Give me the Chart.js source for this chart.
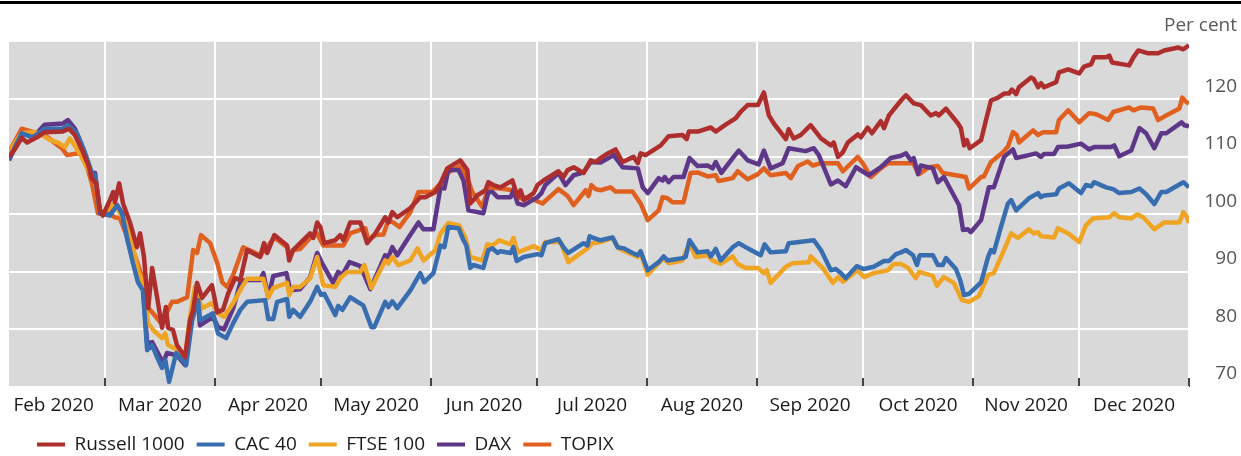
<!DOCTYPE html>
<html>
<head>
<meta charset="utf-8">
<script src="https://cdn.jsdelivr.net/npm/chart.js@4.4.1/dist/chart.umd.min.js"></script>
<style>
  html, body { margin: 0; padding: 0; background: #fff; }
  #wrap { position: relative; width: 1241px; height: 456px; }
  #wrap canvas { display: block; }
  #topRule { position: absolute; left: 0; top: 1px; width: 1241px; height: 3px; background: #000; }
</style>
</head>
<body>
<div id="wrap">
  <canvas id="indexChart" width="1241" height="456"></canvas>
  <div id="topRule"></div>
</div>
<script>
// x values are days counted from 1 Jan 2020 (= day 0)
const monthStarts = [31, 60, 91, 121, 152, 182, 213, 244, 274, 305, 335, 366];
const monthLabels = ['Feb 2020', 'Mar 2020', 'Apr 2020', 'May 2020', 'Jun 2020', 'Jul 2020',
                     'Aug 2020', 'Sep 2020', 'Oct 2020', 'Nov 2020', 'Dec 2020'];
const yTicks = [70, 80, 90, 100, 110, 120];

const russellDays = [32.9,34.6,36.5,38.0,40.8,43.0,48.1,49.8,51.5,53.5,55.2,56.3,57.5,58.6,59.4,61.4,62.3,62.8,64.0,65.1,
  67.1,69.0,69.9,71.0,72.2,73.3,74.7,76.1,77.2,77.8,79.2,80.3,82.6,84.0,84.9,86.0,87.4,90.2,91.7,93.3,
  94.8,96.7,98.2,100.1,103.8,104.9,105.8,107.8,111.4,112.0,113.1,115.1,117.9,118.8,119.9,120.8,121.9,125.0,126.4,127.3,
  129.2,132.1,134.0,136.3,139.1,140.0,141.1,142.5,146.2,149.0,150.4,153.3,154.7,156.6,160.3,162.3,163.1,165.1,167.4,168.2,
  169.6,171.6,175.0,176.5,177.3,178.2,181.0,182.1,183.8,188.0,189.4,190.6,192.3,195.1,197.1,198.5,199.9,201.9,204.1,206.1,
  209.2,210.4,211.2,212.6,216.9,219.1,223.0,224.2,224.8,227.3,231.0,232.4,235.2,238.0,239.4,241.4,244.3,246.0,247.4,248.8,
  252.2,253.0,254.4,256.4,259.2,262.1,264.9,265.7,266.9,268.3,269.7,272.5,273.4,275.3,276.5,279.0,279.9,281.3,284.7,286.1,
  288.3,290.3,293.1,294.6,295.4,297.4,300.8,301.6,302.5,303.3,304.1,307.3,308.7,310.1,312.1,313.8,315.2,316.0,317.2,318.0,
  321.4,322.2,323.4,324.2,325.1,328.5,329.3,331.9,335.0,336.4,338.4,339.2,342.6,343.5,344.3,349.1,350.3,351.7,354.5,357.3,
  359.0,363.0,364.4,366.0];
const russellValues = [110.0,111.4,113.3,112.5,113.4,114.3,114.4,114.9,113.8,111.2,108.7,106.3,105.4,100.7,99.8,102.5,103.9,102.1,105.4,101.9,
  98.5,94.3,96.7,92.6,83.7,90.7,85.6,80.3,83.9,80.3,79.9,77.3,75.2,81.6,83.4,88.1,85.5,87.7,83.0,83.4,
  86.3,88.9,88.6,93.8,92.6,95.0,93.3,96.4,94.6,92.0,93.8,95.0,96.7,95.9,98.6,97.8,95.0,95.5,96.4,95.5,
  98.6,98.6,95.0,96.7,99.5,98.6,100.4,99.5,101.1,103.0,103.0,103.9,105.4,108.0,109.4,107.7,101.9,103.3,104.2,105.6,
  105.1,104.7,105.9,103.0,104.2,102.5,103.7,105.1,105.9,107.5,106.5,107.7,108.2,107.2,109.4,109.1,109.8,110.6,111.3,109.1,
  110.0,108.9,110.6,110.3,112.0,113.6,113.8,113.1,114.4,114.4,115.1,114.4,115.6,116.7,117.8,119.0,119.0,121.2,117.2,115.8,
  113.1,114.8,113.2,113.8,115.5,113.2,112.0,112.5,110.0,110.8,112.5,113.9,113.4,115.1,114.1,116.2,115.0,117.2,119.8,120.7,
  119.3,119.0,117.2,117.6,117.2,118.4,115.8,115.0,112.0,112.9,111.5,112.9,116.4,119.8,120.3,121.0,121.0,121.7,120.9,122.1,
  123.8,123.5,122.1,122.8,122.1,123.0,124.7,125.2,124.5,125.7,126.1,127.3,127.3,127.6,126.4,125.9,127.3,128.5,128.0,128.0,
  128.5,129.0,128.7,129.4];

const cacDays = [32.9,36.5,39.7,43.0,48.1,49.5,52.1,54.3,56.3,57.2,58.6,61.4,63.4,64.8,66.2,67.9,69.3,70.7,71.9,73.3,
  74.7,76.1,77.0,78.1,80.1,81.8,82.9,84.6,86.3,86.8,90.5,91.9,94.2,96.2,98.2,100.1,105.2,106.1,107.5,108.6,
  111.4,112.0,113.1,115.1,117.9,119.9,121.0,121.9,125.0,125.8,127.0,129.2,132.9,135.2,136.0,139.1,140.0,141.1,142.5,146.2,
  149.0,150.1,152.7,154.7,155.8,156.9,159.8,161.2,162.0,163.1,164.0,166.8,168.2,169.4,170.8,171.6,174.5,175.3,176.2,178.2,
  182.1,183.2,184.3,188.0,189.4,190.8,195.1,196.2,196.8,197.9,199.9,203.3,204.7,206.4,208.9,210.4,211.2,213.2,216.3,217.7,
  218.8,223.0,223.9,225.0,227.3,230.1,231.0,232.4,233.8,237.2,238.9,241.4,245.1,246.2,247.9,252.2,253.0,260.1,262.1,264.9,
  266.3,267.7,269.1,272.2,274.2,277.0,279.9,281.3,283.3,284.7,286.1,288.1,289.2,290.0,293.7,295.1,296.5,297.4,300.2,301.4,
  302.5,303.9,307.3,309.3,310.1,310.9,312.9,314.9,315.8,317.2,320.8,323.4,324.2,325.1,328.5,329.3,332.1,335.5,336.9,338.4,
  339.2,342.6,344.6,346.3,349.7,352.0,353.9,356.2,358.2,359.6,364.4,366.0];
const cacValues = [109.6,114.1,113.4,114.9,114.9,115.5,114.1,110.8,107.2,106.8,100.2,99.8,101.6,100.2,96.0,91.5,88.2,86.8,76.4,77.3,
  75.2,73.3,74.7,70.9,75.9,74.7,73.8,81.6,85.1,81.6,82.8,79.3,78.5,81.1,83.4,84.8,85.1,81.8,81.8,84.8,
  85.3,82.2,83.4,82.2,84.8,87.4,86.0,86.2,82.5,84.1,83.4,85.6,84.2,80.4,80.4,84.8,83.9,84.9,83.7,86.8,
  89.8,88.2,89.8,94.6,94.3,97.8,97.6,95.5,94.6,90.7,91.2,90.7,93.8,94.1,93.3,93.6,93.3,94.3,91.9,92.6,
  93.1,92.9,95.0,95.7,94.3,93.3,95.0,94.6,96.2,95.9,95.5,96.0,94.3,94.1,93.3,92.9,93.6,90.3,91.7,92.7,
  92.0,92.4,92.6,95.5,93.4,93.6,92.7,94.0,92.0,94.3,95.0,94.1,92.9,94.8,93.4,93.6,95.0,95.5,93.8,90.3,
  90.5,89.8,88.9,91.0,90.5,90.9,91.9,91.9,93.1,93.4,93.8,92.9,91.2,92.9,92.9,91.2,91.2,92.4,90.5,88.6,
  86.0,86.2,88.2,92.6,93.8,93.4,97.8,101.9,102.5,100.7,102.8,103.7,103.0,103.3,103.5,104.5,105.4,103.7,105.1,104.9,
  105.6,104.7,104.4,103.7,103.9,104.5,103.5,101.8,103.9,103.9,105.6,104.7];

const ftseDays = [32.9,35.1,36.5,39.7,41.6,44.5,46.7,48.7,50.1,52.9,55.2,57.2,58.6,60.6,62.8,65.7,67.6,69.3,70.7,72.2,
  73.6,76.1,77.0,77.8,80.6,82.6,84.0,85.4,87.4,90.2,91.9,93.6,96.2,98.7,100.1,104.7,106.1,107.5,111.4,112.0,
  113.1,115.1,117.9,119.9,121.6,125.0,126.4,128.4,132.1,133.2,135.2,139.1,140.0,141.1,142.8,146.2,148.2,149.9,153.3,154.7,
  156.9,160.0,161.7,163.1,166.5,167.9,169.4,171.3,174.5,175.3,176.5,181.0,183.0,184.3,188.6,190.8,196.2,197.6,199.9,203.3,
  205.0,210.4,211.2,213.2,216.3,217.7,219.1,223.0,225.0,226.7,230.1,231.5,233.8,237.2,238.6,240.9,244.3,246.0,246.8,247.9,
  252.2,254.1,258.7,259.2,262.6,265.5,266.9,268.3,272.5,274.2,277.0,281.0,282.7,284.7,286.7,288.9,289.8,293.7,294.8,296.8,
  299.6,301.9,303.9,306.7,309.3,310.9,313.5,315.8,317.7,320.8,322.2,323.4,324.2,327.9,329.0,331.9,335.0,336.9,338.9,343.5,
  344.9,346.3,349.7,351.4,353.1,356.2,359.0,363.3,364.4,365.3,366.0];
const ftseValues = [110.6,112.9,114.1,114.3,114.1,112.9,112.5,111.7,113.2,110.6,107.7,106.3,100.4,100.7,101.9,98.5,95.0,90.3,88.1,81.1,
  79.9,78.5,79.3,77.3,76.4,75.2,82.2,87.4,83.7,84.6,82.8,82.2,84.6,87.4,88.8,88.8,85.6,87.2,88.1,86.0,
  87.4,87.4,88.9,92.6,87.7,87.4,88.9,90.0,90.0,91.2,87.2,92.0,91.5,92.6,91.2,92.0,94.1,92.0,93.8,96.7,
  98.5,98.1,96.0,92.6,92.0,94.8,94.6,95.5,94.8,95.9,93.4,94.5,93.8,95.2,95.2,91.7,94.1,95.0,95.2,95.9,
  94.1,92.6,93.3,89.5,91.5,92.4,91.5,92.0,95.0,92.6,92.9,92.0,91.4,92.7,91.4,90.7,90.7,89.8,90.3,88.1,
  90.9,91.5,91.7,92.7,90.7,88.1,89.1,88.3,90.3,89.1,89.8,90.3,91.4,91.4,90.7,88.9,90.0,89.3,87.6,89.1,
  88.1,85.1,84.8,85.8,89.5,89.8,93.4,96.7,95.9,97.4,96.7,96.9,96.2,96.0,97.6,96.7,95.2,98.1,99.3,99.5,
  100.2,99.5,99.3,100.0,99.5,97.4,98.6,98.6,100.4,99.7,98.5];

const daxDays = [32.9,36.5,39.7,43.0,48.1,49.5,51.5,53.8,55.8,57.2,58.6,61.4,63.4,64.8,66.2,67.9,70.7,71.9,73.3,76.4,
  77.5,80.3,82.6,84.0,86.0,86.8,90.5,91.9,93.6,96.2,98.2,99.6,103.8,104.7,106.1,107.5,111.2,112.3,115.1,117.9,
  119.9,121.3,124.4,125.8,127.0,129.0,132.1,134.9,139.1,140.0,141.1,142.5,145.6,148.5,149.9,152.7,154.7,155.8,156.9,159.8,
  161.2,162.6,166.8,168.2,169.4,170.8,174.5,175.3,176.5,178.2,182.1,183.2,184.3,188.0,190.0,192.3,195.1,197.1,199.9,203.6,
  206.1,210.4,211.8,213.2,216.3,217.4,218.0,219.1,220.5,223.3,225.0,227.3,230.1,231.5,232.4,234.0,237.2,238.9,241.4,244.5,
  246.0,247.9,251.3,253.0,257.8,260.1,261.5,264.9,266.9,269.1,272.0,275.6,279.0,281.8,284.7,286.1,287.5,288.3,289.5,290.3,
  293.7,295.1,296.8,301.1,302.2,303.6,304.4,307.3,309.5,310.9,313.8,316.3,317.2,320.8,322.8,324.2,325.1,327.9,329.0,331.9,
  335.5,337.8,339.2,344.0,344.9,346.3,349.7,352.0,353.9,356.2,358.2,359.6,363.9,364.7,366.0];
const daxValues = [109.4,114.1,113.4,115.6,115.8,116.4,114.9,111.5,107.3,107.2,100.2,100.0,101.6,100.2,96.0,92.0,87.4,77.6,77.8,74.2,
  75.9,75.5,73.8,81.1,87.4,80.7,82.2,80.4,80.0,83.7,88.1,88.6,88.6,89.8,85.6,89.3,89.8,86.8,87.0,89.1,
  93.3,91.5,88.1,90.0,89.5,91.7,91.0,87.0,92.9,92.6,94.3,92.9,95.9,98.6,97.4,97.4,104.7,104.5,107.7,107.7,
  105.9,100.7,100.2,103.9,103.9,103.0,103.0,104.2,101.9,101.6,103.0,103.7,105.1,107.2,105.1,106.8,107.3,109.1,109.0,110.3,
  108.2,108.0,104.7,103.7,106.3,105.9,106.5,105.6,106.5,106.5,109.8,108.4,108.5,108.0,109.1,107.2,109.8,111.1,109.4,108.7,
  111.1,108.0,108.9,111.5,111.0,111.5,110.3,105.2,105.9,104.9,108.2,106.8,108.2,109.8,110.2,110.6,109.4,109.8,107.0,108.5,
  108.0,105.6,106.5,101.6,97.3,97.4,96.9,99.0,104.7,104.7,110.0,111.3,109.8,110.3,110.6,110.0,110.5,110.5,111.7,111.8,
  112.3,111.3,111.7,111.7,112.0,110.1,111.1,115.0,114.1,111.5,114.1,114.1,116.0,115.5,115.3];

const topixDays = [32.9,36.5,40.8,43.0,46.7,47.8,49.3,52.1,54.3,55.2,56.3,58.0,61.4,62.8,64.2,65.7,67.9,70.5,71.9,73.6,
  75.5,77.5,78.9,80.3,83.2,84.9,86.0,87.1,89.7,91.7,93.1,94.5,96.2,99.0,103.8,105.8,107.8,111.4,112.3,113.1,
  115.1,117.9,119.9,121.6,127.3,129.2,133.5,134.3,136.3,138.6,140.0,141.4,143.1,146.2,148.5,152.4,155.2,156.6,160.3,162.3,
  163.7,166.5,168.2,171.6,175.3,177.3,179.3,183.5,188.0,190.6,192.3,195.7,196.5,197.3,198.5,199.9,202.7,204.1,208.9,211.2,
  213.2,216.3,217.4,218.8,220.2,223.3,225.3,227.3,230.1,232.4,233.2,237.2,238.6,241.4,244.3,246.0,247.9,252.2,253.6,255.6,
  258.4,259.8,262.1,266.9,268.3,272.5,273.9,276.2,279.0,281.0,284.7,288.1,289.8,292.6,295.1,296.5,303.0,303.9,307.3,308.1,
  310.1,313.5,314.9,316.3,317.4,318.0,322.0,323.4,324.8,328.5,329.3,331.9,335.0,337.8,339.8,343.2,344.6,349.1,350.3,352.5,
  355.9,357.3,359.0,363.3,364.1,365.3,366.0];
const topixValues = [110.8,114.9,114.1,113.8,112.0,111.5,110.3,110.6,110.6,107.7,105.4,100.2,100.0,99.5,99.3,97.0,93.8,89.1,83.9,82.8,
  81.3,83.0,84.8,84.8,85.6,93.8,93.3,96.4,95.0,91.5,88.2,87.4,89.5,94.3,92.9,94.3,96.0,94.3,92.9,93.8,
  94.0,95.9,96.7,94.6,94.6,96.7,97.6,95.5,96.4,96.5,99.0,98.6,97.8,100.4,103.9,103.9,105.6,107.2,108.4,106.3,
  103.9,101.3,104.7,104.5,104.2,102.8,103.0,101.9,104.4,103.2,101.6,104.2,103.2,105.1,104.4,104.2,104.7,104.0,104.0,101.9,
  99.0,100.7,103.0,102.8,102.1,102.1,107.2,107.3,106.6,106.8,105.8,106.3,107.5,106.1,107.0,108.0,106.8,107.2,106.3,108.4,
  109.2,108.5,108.9,108.9,107.5,110.0,108.9,106.5,108.0,108.9,108.9,108.9,107.0,108.2,108.4,107.2,106.5,104.5,106.5,106.6,
  109.1,110.8,111.8,114.3,113.8,112.5,114.6,113.8,114.3,114.3,116.4,118.1,116.0,117.6,117.4,116.4,117.8,118.6,118.1,118.6,
  118.4,116.4,117.0,118.4,120.3,119.5,119.3];

const seriesNames = ['Russell 1000', 'CAC 40', 'FTSE 100', 'DAX', 'TOPIX'];
const seriesColors = ['#ad2e2c', '#386db0', '#f0a424', '#5e3788', '#e06020'];
const seriesDays = [russellDays, cacDays, ftseDays, daxDays, topixDays];
const seriesValues = [russellValues, cacValues, ftseValues, daxValues, topixValues];

function toPoints(days, values) {
    const n = Math.min(days.length, values.length);
    const pts = [];
    for (let i = 0; i < n; i++) pts.push({ x: days[i], y: values[i] });
    return pts;
}

// grey plotting area
const plotBackground = {
    id: 'plotBackground',
    beforeDraw(chart) {
        const { ctx, chartArea } = chart;
        ctx.save();
        ctx.fillStyle = '#d9d9d9';
        ctx.fillRect(chartArea.left, chartArea.top, chartArea.right - chartArea.left, chartArea.bottom - chartArea.top);
        ctx.restore();
    }
};

// push legend items a bit to the right
const legendIndent = {
    id: 'legendIndent',
    afterLayout(chart) {
        if (chart.legend) chart.legend.left += 16;
    }
};

Chart.defaults.font.family = "'Open Sans', sans-serif";
Chart.defaults.font.size = 19;

const ctx = document.getElementById('indexChart').getContext('2d');

new Chart(ctx, {
    type: 'line',
    data: {
        datasets: seriesNames.map((name, i) => ({
            label: name,
            data: toPoints(seriesDays[i], seriesValues[i]),
            borderColor: seriesColors[i],
            backgroundColor: seriesColors[i],
            borderWidth: 4.5,
            borderJoinStyle: 'round',
            pointRadius: 0,
            tension: 0,
            xAxisID: 'x',
            yAxisID: 'y'
        }))
    },
    options: {
        responsive: false,
        animation: false,
        devicePixelRatio: 1,
        layout: { padding: { left: 9, right: 4, top: 0, bottom: 0 } },
        scales: {
            x: {
                type: 'linear',
                position: 'bottom',
                min: 32.9,
                max: 366,
                afterBuildTicks: scale => {
                    scale.ticks = monthStarts.filter(v => v >= scale.min).map(v => ({ value: v }));
                },
                grid: { color: '#ffffff', lineWidth: 2, drawTicks: true, tickLength: -9, tickColor: '#444444', tickWidth: 2 },
                border: { display: false },
                ticks: { display: false },
                afterFit: scale => { scale.height = 0; }
            },
            x2: {
                type: 'linear',
                position: 'bottom',
                min: 32.9,
                max: 366,
                afterBuildTicks: scale => {
                    scale.ticks = monthLabels.map((m, i) => ({ value: (monthStarts[i] + monthStarts[i + 1]) / 2 }));
                },
                grid: { display: false, drawTicks: false },
                border: { display: false },
                ticks: {
                    autoSkip: false,
                    maxRotation: 0,
                    padding: 7,
                    color: '#1a1a1a',
                    callback: (value, index) => monthLabels[index]
                },
                afterFit: scale => { scale.height = 36; }
            },
            y: {
                type: 'linear',
                position: 'right',
                min: 70,
                max: 130,
                afterBuildTicks: scale => {
                    scale.ticks = yTicks.map(v => ({ value: v }));
                },
                grid: { color: '#ffffff', lineWidth: 2, drawTicks: false },
                border: { display: false },
                ticks: { padding: 15, crossAlign: 'far', labelOffset: -13, color: '#555555' },
                afterFit: scale => { scale.width = 48; }
            }
        },
        plugins: {
            title: {
                display: true,
                text: 'Per cent',
                align: 'end',
                color: '#5a5a5a',
                font: { size: 19, weight: 'normal' },
                padding: { top: 14, bottom: 5 }
            },
            legend: {
                position: 'bottom',
                align: 'start',
                maxHeight: 33,
                labels: {
                    boxWidth: 28,
                    boxHeight: 4,
                    padding: 12,
                    color: '#1a1a1a',
                    generateLabels: chart => Chart.defaults.plugins.legend.labels.generateLabels(chart)
                        .map(item => ({ ...item, fillStyle: item.strokeStyle, lineWidth: 0 }))
                }
            },
            tooltip: { enabled: false }
        }
    },
    plugins: [plotBackground, legendIndent]
});
</script>
</body>
</html>
